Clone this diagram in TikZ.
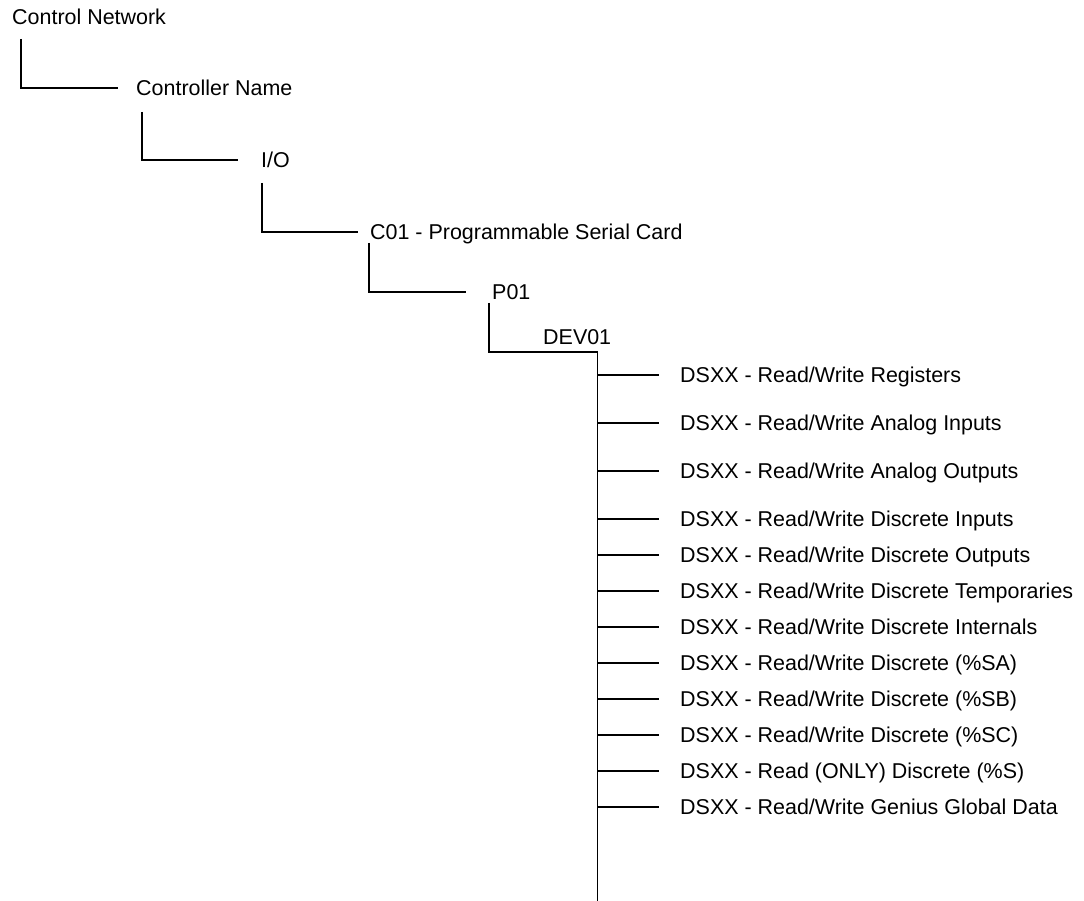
\documentclass[tikz,border=0pt]{standalone}
\usepackage{fontspec}
\setmainfont{Liberation Sans}
\begin{document}
\begin{tikzpicture}[x=1pt,y=-1pt,
  lbl/.style={anchor=west,inner sep=0pt,text height=15pt,text depth=0pt,font=\fontsize{21.45}{24}\selectfont},
  wire/.style={line width=1.8pt}]
\useasboundingbox (0,0) rectangle (1084,901);
\node[lbl] (cn) at (12,17) {Control Network};
\node[lbl] (cname) at (136,88) {Controller Name};
\node[lbl] (io) at (261,160) {I/O};
\node[lbl] (c01) at (370,232) {C01 - Programmable Serial Card};
\node[lbl] (p01) at (492,292) {P01};
\node[lbl] (dev) at (543,337) {DEV01};
\foreach \i/\y/\t in {1/375/{Read/Write Registers},2/423/{Read/Write Analog Inputs},3/471/{Read/Write Analog Outputs},4/519/{Read/Write Discrete Inputs},5/555/{Read/Write Discrete Outputs},6/591/{Read/Write Discrete Temporaries},7/627/{Read/Write Discrete Internals},8/663/{Read/Write Discrete (\%SA)},9/699/{Read/Write Discrete (\%SB)},10/735/{Read/Write Discrete (\%SC)},11/771/{Read (ONLY) Discrete (\%S)},12/807/{Read/Write Genius Global Data}}
  {\node[lbl] (ds\i) at (680,\y) {DSXX - \t};}
\coordinate (bustop) at (597.5,352);
\coordinate (busend) at (597.5,901);
\draw[wire] ([xshift=9pt,yshift=-22pt]cn.west) |- ([xshift=-18pt]cname.west);
\draw[wire] ([xshift=6pt,yshift=-24pt]cname.west) |- ([xshift=-23pt]io.west);
\draw[wire] ([xshift=1pt,yshift=-23pt]io.west) |- ([xshift=-12pt]c01.west);
\draw[wire] ([xshift=-1pt,yshift=-11pt]c01.west) |- ([xshift=-26pt]p01.west);
\draw[wire] ([xshift=-3pt,yshift=-11pt]p01.west) |- (bustop) -- (busend);
\foreach \i in {1,...,12}
  {\draw[wire] (bustop |- ds\i.west) -- ([xshift=-21pt]ds\i.west);}
\end{tikzpicture}
\end{document}
